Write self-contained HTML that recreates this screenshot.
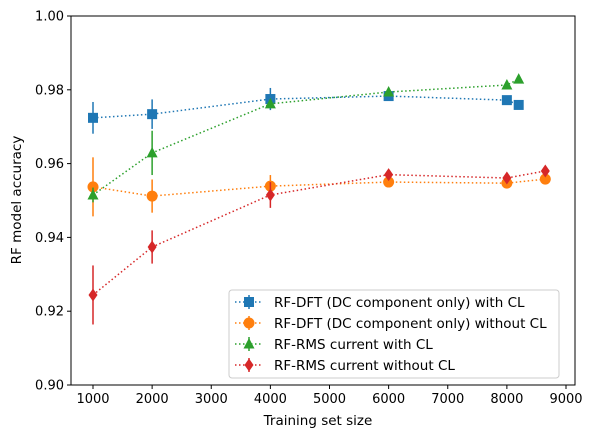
<!DOCTYPE html>
<html><head><meta charset="utf-8"><style>
body{margin:0;background:#fff;}
svg{font-family:"DejaVu Sans","Liberation Sans",sans-serif;}
</style></head><body>
<svg id="c" width="592" height="438" viewBox="0 0 592 438"></svg>
<script>
const xTicks=[1000,2000,3000,4000,5000,6000,7000,8000,9000];
const yTicks=[0.90,0.92,0.94,0.96,0.98,1.00];
const seriesNames=["RF-DFT (DC component only) with CL","RF-DFT (DC component only) without CL","RF-RMS current with CL","RF-RMS current without CL"];
const blueX=[1000,2000,4000,6000,8000,8200];
const blueY=[0.9724,0.9734,0.9775,0.9783,0.9772,0.9759];
const blueE=[0.0043,0.004,0.003,0.001,0.0005,0.0005];
const orangeX=[1000,2000,4000,6000,8000,8650];
const orangeY=[0.9537,0.9512,0.9539,0.955,0.9547,0.9558];
const orangeE=[0.008,0.0045,0.003,0.0008,0.001,0.0005];
const greenX=[1000,2000,4000,6000,8000,8200];
const greenY=[0.9515,0.9629,0.9762,0.9794,0.9813,0.9829];
const greenE=[0.002,0.006,0.001,0.0008,0.0005,0.0005];
const redX=[1000,2000,4000,6000,8000,8650];
const redY=[0.9244,0.9374,0.9515,0.957,0.9561,0.958];
const redE=[0.008,0.0045,0.0035,0.0012,0.001,0.0008];

const svg=document.getElementById('c');
const NS='http://www.w3.org/2000/svg';
const L=71,R=575,T=16,B=385;
const sx=v=>93+(v-1000)*(566-93)/8000;
const sy=v=>B-(v-0.9)*(B-T)/0.1;
function el(t,a,p){const e=document.createElementNS(NS,t);for(const k in a)e.setAttribute(k,a[k]);(p||svg).appendChild(e);return e;}

const frame=el('rect',{x:L,y:T,width:R-L,height:B-T,fill:'none',stroke:'#000','stroke-width':1});


xTicks.forEach(v=>{
  el('line',{x1:sx(v),x2:sx(v),y1:B,y2:B+4,stroke:'#000'});
  const t=el('text',{x:sx(v),y:B+18,'text-anchor':'middle','font-size':13});t.textContent=v;
  
  
});
yTicks.forEach(v=>{
  el('line',{x1:L-4,x2:L,y1:sy(v),y2:sy(v),stroke:'#000'});
  const t=el('text',{x:L-7,y:sy(v)+4.5,'text-anchor':'end','font-size':13});t.textContent=v.toFixed(2);
  
  
});
const xt=el('text',{x:318,y:425,'text-anchor':'middle','font-size':13.5});xt.textContent='Training set size';


const yt=el('text',{x:21,y:200,'text-anchor':'middle','font-size':13.5,transform:'rotate(-90 21 200)'});yt.textContent='RF model accuracy';



function marker(g,type,x,y,c){
  if(type==='s')el('rect',{x:x-5,y:y-5,width:10,height:10,fill:c},g);
  else if(type==='o')el('circle',{cx:x,cy:y,r:5.5,fill:c},g);
  else if(type==='^')el('polygon',{points:`${x},${y-6} ${x+5.5},${y+4.5} ${x-5.5},${y+4.5}`,fill:c},g);
  else el('polygon',{points:`${x},${y-6.5} ${x+4.5},${y} ${x},${y+6.5} ${x-4.5},${y}`,fill:c},g);
}
const S=[[blueX,blueY,blueE,'#1f77b4','s','series-dft-with-cl'],[orangeX,orangeY,orangeE,'#ff7f0e','o','series-dft-without-cl'],[greenX,greenY,greenE,'#2ca02c','^','series-rms-with-cl'],[redX,redY,redE,'#d62728','d','series-rms-without-cl']];
S.forEach(([xs,ys,es,c,m,name])=>{
  const g=el('g',{});
  
  
  el('polyline',{points:xs.map((x,i)=>sx(x)+','+sy(ys[i])).join(' '),fill:'none',stroke:c,'stroke-width':1.5,'stroke-dasharray':'1.5,2.5'},g);
  xs.forEach((x,i)=>{
    el('line',{x1:sx(x),x2:sx(x),y1:sy(ys[i]-es[i]),y2:sy(ys[i]+es[i]),stroke:c,'stroke-width':1.5},g);
    marker(g,m,sx(x),sy(ys[i]),c);
  });
});
const lg=el('g',{});


el('rect',{x:229,y:290,width:330,height:88,rx:3,fill:'#fff','fill-opacity':0.8,stroke:'#ccc'},lg);
S.forEach(([xs,ys,es,c,m],i)=>{
  const y=302+i*21;
  const e=el('g',{},lg);
  
  
  el('line',{x1:235,x2:263,y1:y,y2:y,stroke:c,'stroke-width':1.5,'stroke-dasharray':'1.5,2.5'},e);
  el('line',{x1:249,x2:249,y1:y-7,y2:y+7,stroke:c,'stroke-width':1.5},e);
  marker(e,m,249,y,c);
  const t=el('text',{x:274,y:y+5,'font-size':13.5},e);t.textContent=seriesNames[i];
});
</script>
</body></html>
